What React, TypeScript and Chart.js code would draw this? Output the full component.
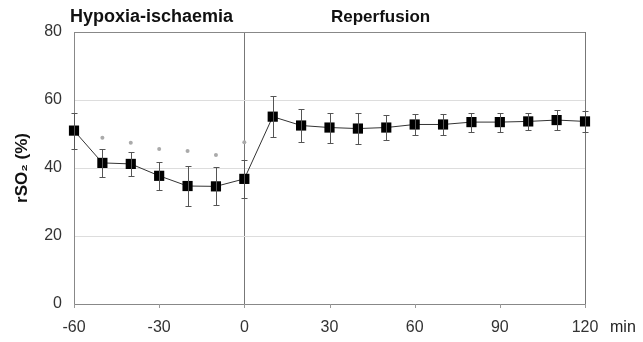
import React, { useEffect, useRef } from "react";
import { Chart, registerables } from "chart.js";

Chart.register(...registerables);

const minutes = [-60, -50, -40, -30, -20, -10, 0, 10, 20, 30, 40, 50, 60, 70, 80, 90, 100, 110, 120];
const rso2 = [51, 41.5, 41.2, 37.7, 34.7, 34.6, 36.8, 55.1, 52.5, 51.9, 51.6, 51.9, 52.8, 52.8, 53.5, 53.5, 53.7, 54.1, 53.7];
const sdValues = [5.3, 4.2, 3.5, 4.1, 6.0, 5.6, 5.5, 6.0, 4.9, 4.4, 4.6, 3.8, 3.0, 3.1, 2.8, 2.8, 2.6, 3.0, 3.1];
const starMinutes = [-50, -40, -30, -20, -10, 0];
const starValues = [48.9, 47.4, 45.6, 45.0, 43.8, 47.6];
const xTicks = [-60, -30, 0, 30, 60, 90, 120];
const yTicks = [0, 20, 40, 60, 80];
const phaseLabels = ["Hypoxia-ischaemia", "Reperfusion"];
const yTitle = "rSO\u2082 (%)";
const xUnit = "min";

const FONT = "'Liberation Sans', Arial, Helvetica, sans-serif";

const errorBarPlugin = {
  id: "errorBars",
  afterDatasetsDraw(chart: any) {
    const { ctx, scales } = chart;
    const xs = scales.x;
    const ys = scales.y;
    ctx.save();
    ctx.strokeStyle = "#555";
    ctx.lineWidth = 1;
    minutes.forEach((m, i) => {
      const x = Math.round(xs.getPixelForValue(m)) + 0.5;
      const yT = Math.round(ys.getPixelForValue(rso2[i] + sdValues[i])) + 0.5;
      const yB = Math.round(ys.getPixelForValue(rso2[i] - sdValues[i])) + 0.5;
      ctx.beginPath();
      ctx.moveTo(x, yT);
      ctx.lineTo(x, yB);
      ctx.moveTo(x - 3, yT);
      ctx.lineTo(x + 3, yT);
      ctx.moveTo(x - 3, yB);
      ctx.lineTo(x + 3, yB);
      ctx.stroke();
    });
    ctx.restore();
  },
};

const textPlugin = {
  id: "textLabels",
  afterDraw(chart: any) {
    const { ctx, chartArea, scales } = chart;
    ctx.save();
    ctx.fillStyle = "#111";
    ctx.textBaseline = "middle";
    ctx.textAlign = "left";
    ctx.font = `bold 18px ${FONT}`;
    ctx.fillText(phaseLabels[0], 70, 17);
    ctx.font = `bold 17px ${FONT}`;
    ctx.fillText(phaseLabels[1], 331, 17);
    // y title
    ctx.save();
    ctx.translate(22, (chartArea.top + chartArea.bottom) / 2);
    ctx.rotate(-Math.PI / 2);
    ctx.textAlign = "center";
    ctx.font = `bold 17px ${FONT}`;
    ctx.fillText(yTitle, 0, 0);
    ctx.restore();
    // unit
    ctx.font = `16px ${FONT}`;
    ctx.fillStyle = "#222";
    ctx.textAlign = "left";
    ctx.fillText(xUnit, 610, 328);
    // x tick marks
    ctx.strokeStyle = "#999";
    ctx.lineWidth = 1;
    xTicks.forEach((t) => {
      const x = Math.round(scales.x.getPixelForValue(t)) + 0.5;
      ctx.beginPath();
      ctx.moveTo(x, chartArea.bottom);
      ctx.lineTo(x, chartArea.bottom + 4);
      ctx.stroke();
    });
    ctx.restore();
  },
};

export default function App() {
  const ref = useRef<HTMLCanvasElement | null>(null);
  useEffect(() => {
    if (!ref.current) return;
    const chart = new Chart(ref.current, {
      type: "scatter",
      data: {
        datasets: [
          {
            data: minutes.map((m, i) => ({ x: m, y: rso2[i] })),
            showLine: true,
            borderColor: "#333",
            borderWidth: 1,
            backgroundColor: "#000",
            pointStyle: "rect",
            pointRadius: 7.2,
            pointBorderWidth: 0,
            pointBackgroundColor: "#000",
            clip: false,
          } as any,
          {
            data: starMinutes.map((m, i) => ({ x: m, y: starValues[i] })),
            showLine: false,
            pointStyle: "circle",
            pointRadius: 2,
            pointBorderWidth: 0,
            backgroundColor: "#aaa",
            pointBackgroundColor: "#aaa",
            clip: false,
          } as any,
        ],
      },
      options: {
        animation: false,
        responsive: false,
        maintainAspectRatio: false,
        layout: { padding: { top: 32, right: 58, left: 0, bottom: 0 } },
        plugins: { legend: { display: false }, tooltip: { enabled: false } },
        scales: {
          x: {
            type: "linear",
            min: -60,
            max: 120,
            afterBuildTicks: (s: any) => {
              s.ticks = xTicks.map((v) => ({ value: v }));
            },
            afterFit: (s: any) => {
              s.height = 38;
            },
            ticks: {
              color: "#333",
              font: { family: FONT, size: 16 },
              padding: 14,
              maxRotation: 0,
            },
            grid: {
              drawTicks: false,
              color: (c: any) => (c.tick && (c.tick.value === 0 || c.tick.value === 120) ? "#777" : "rgba(0,0,0,0)"),
              lineWidth: 1,
            },
            border: { color: "#888", width: 1 },
          },
          y: {
            type: "linear",
            min: 0,
            max: 80,
            afterBuildTicks: (s: any) => {
              s.ticks = yTicks.map((v) => ({ value: v }));
            },
            afterFit: (s: any) => {
              s.width = 74;
            },
            ticks: {
              color: "#333",
              font: { family: FONT, size: 16 },
              padding: 12,
            },
            grid: {
              drawTicks: false,
              color: (c: any) => (c.tick && c.tick.value === 80 ? "#888" : "#ddd"),
              lineWidth: 1,
            },
            border: { color: "#888", width: 1 },
          },
        },
      } as any,
      plugins: [errorBarPlugin, textPlugin],
    });
    return () => chart.destroy();
  }, []);
  return (
    <div style={{ position: "fixed", left: 0, top: 0, width: 643, height: 342, background: "#fff" }}>
      <canvas ref={ref} width={643} height={342} style={{ width: 643, height: 342 }} />
    </div>
  );
}
